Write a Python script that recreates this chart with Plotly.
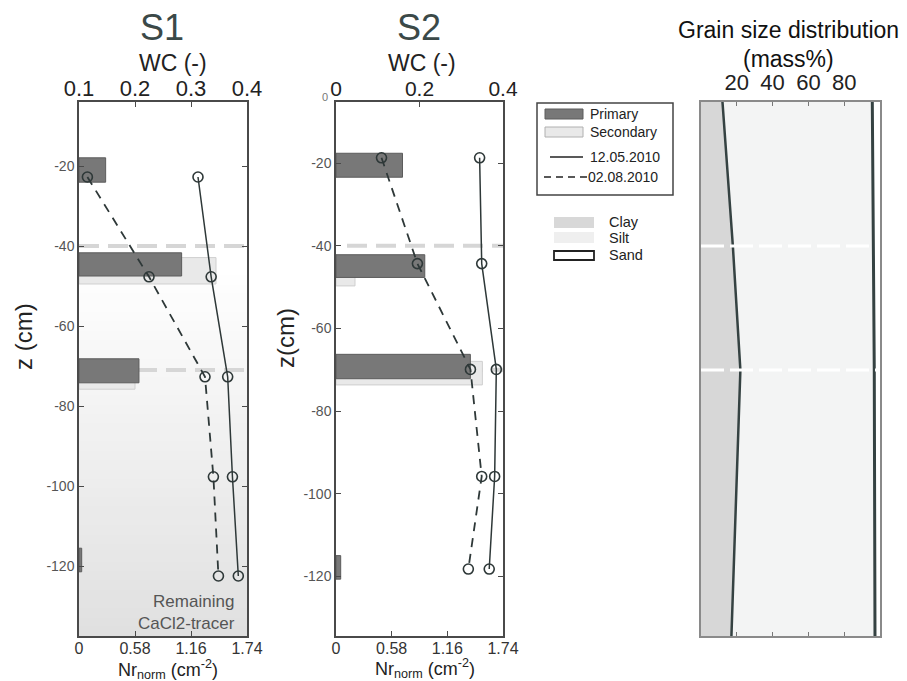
import plotly.graph_objects as go

# the page places the plot 8px from the top-left corner (body margin)
OFF = 8
W, H = 907 - OFF, 681 - OFF
def fx(p):
    return (p - OFF) / W
def fy(p):
    return 1 - (p - OFF) / H

FONT = "Liberation Sans, Arial, sans-serif"

# ---------------- data ----------------
s1_layer_bounds = [-40, -71]
s2_layer_bounds = [-40, -70]
gs_layer_bounds = [-40, -71]

s1_wc_depth = [-22.75, -47.7, -72.7, -97.7, -122.5]
s1_wc_may = [0.3125, 0.336, 0.3655, 0.374, 0.3845]
s1_wc_aug = [0.115, 0.225, 0.325, 0.34, 0.349]
s1_prim_depth = [-21.0, -44.6, -71.2, -118.5]
s1_prim_nr = [0.276, 1.063, 0.621, 0.028]
s1_prim_h = [6.1, 5.8, 6.0, 5.9]
s1_sec_depth = [-46.2, -72.8]
s1_sec_nr = [1.419, 0.58]
s1_sec_h = [6.6, 6.0]

s2_wc_depth = [-18.7, -44.3, -69.9, -95.8, -118.2]
s2_wc_may = [0.344, 0.349, 0.384, 0.380, 0.367]
s2_wc_aug = [0.109, 0.195, 0.322, 0.349, 0.317]
s2_prim_depth = [-20.5, -44.9, -69.2, -117.8]
s2_prim_nr = [0.693, 0.925, 1.40, 0.049]
s2_prim_h = [5.8, 5.5, 5.9, 5.7]
s2_sec_depth = [-46.6, -70.8]
s2_sec_nr = [0.198, 1.525]
s2_sec_h = [6.2, 5.7]

gs_depth = [-4, -40, -71, -137.5]
gs_clay = [12, 17.8, 22, 17]
gs_clay_silt = [95.7, 96.3, 96.8, 97.2]

nr_ticks = [0, 0.58, 1.16, 1.74]
nr_ticktext = ["0", "0.58", "1.16", "1.74"]
s1_wc_ticks = [0.1, 0.2, 0.3, 0.4]
s2_wc_ticks = [0, 0.2, 0.4]
z_ticks = [-20, -40, -60, -80, -100, -120]
z_ticktext = ["-20", "-40", "-60", "-80", "-100", "-120"]
gs_ticks = [20, 40, 60, 80]

S1_YR = [-137.5, -4]
S2_YR = [-134.4, -5.2]
NR_R = [0, 1.74]
S1_WCR = [0.1, 0.4]
S2_WCR = [0, 0.4]
GS_R = [0, 100]

# ---------------- styles ----------------
PRIM_FILL, PRIM_LINE = "#787878", "#5c5c5c"
SEC_FILL, SEC_LINE = "#e9e9e9", "#cfcfcf"
WC_COL = "#2e3838"
AX_COL = "#4a4a4a"

fig = go.Figure()

def add_profile(xb, xt, ya, sec_d, sec_v, sec_h, pr_d, pr_v, pr_h, d, may, aug):
    fig.add_trace(go.Bar(orientation="h", x=sec_v, y=sec_d, width=sec_h,
                         xaxis=xb, yaxis=ya, showlegend=False,
                         marker=dict(color=SEC_FILL, line=dict(color=SEC_LINE, width=1))))
    fig.add_trace(go.Bar(orientation="h", x=pr_v, y=pr_d, width=pr_h,
                         xaxis=xb, yaxis=ya, showlegend=False,
                         marker=dict(color=PRIM_FILL, line=dict(color=PRIM_LINE, width=1))))
    fig.add_trace(go.Scatter(x=may, y=d, xaxis=xt, yaxis=ya, mode="lines+markers",
                             showlegend=False, line=dict(color=WC_COL, width=1.5),
                             marker=dict(symbol="circle-open", size=10,
                                         line=dict(color=WC_COL, width=1.6))))
    fig.add_trace(go.Scatter(x=aug, y=d, xaxis=xt, yaxis=ya, mode="lines+markers",
                             showlegend=False,
                             line=dict(color=WC_COL, width=1.8, dash="9px,7px"),
                             marker=dict(symbol="circle-open", size=10,
                                         line=dict(color=WC_COL, width=1.6))))

add_profile("x", "x2", "y", s1_sec_depth, s1_sec_nr, s1_sec_h,
            s1_prim_depth, s1_prim_nr, s1_prim_h, s1_wc_depth, s1_wc_may, s1_wc_aug)
add_profile("x3", "x4", "y2", s2_sec_depth, s2_sec_nr, s2_sec_h,
            s2_prim_depth, s2_prim_nr, s2_prim_h, s2_wc_depth, s2_wc_may, s2_wc_aug)

# grain size
fig.add_trace(go.Scatter(x=gs_clay, y=gs_depth, xaxis="x5", yaxis="y3", mode="lines",
                         fill="tozerox", fillcolor="#d7d7d7", showlegend=False,
                         line=dict(color="#354242", width=2.5)))
fig.add_trace(go.Scatter(x=gs_clay_silt, y=gs_depth, xaxis="x5", yaxis="y3", mode="lines",
                         fill="tonextx", fillcolor="#f3f4f4", showlegend=False,
                         line=dict(color="#354242", width=3)))

shapes = []
# gradient background in S1 (remaining tracer)
n = 40
z_top, z_bot = -45.0, S1_YR[0]
for i in range(n):
    a = z_top + (z_bot - z_top) * i / n
    b = z_top + (z_bot - z_top) * (i + 1) / n
    g = int(round(255 - (255 - 224) * (i + 0.5) / n))
    shapes.append(dict(type="rect", xref="x domain", yref="y", x0=0, x1=1,
                       y0=b - 0.3, y1=a, fillcolor=f"rgb({g},{g},{g})",
                       line_width=0, layer="below"))
for zb in s1_layer_bounds:
    shapes.append(dict(type="line", xref="x domain", yref="y", x0=0, x1=1, y0=zb, y1=zb,
                       line=dict(color="#d6d6d6", width=4, dash="20px,9px"), layer="below"))
for zb in s2_layer_bounds:
    shapes.append(dict(type="line", xref="x3 domain", yref="y2", x0=0.066, x1=1, y0=zb, y1=zb,
                       line=dict(color="#d6d6d6", width=4, dash="20px,9px"), layer="below"))
for zb in gs_layer_bounds:
    shapes.append(dict(type="line", xref="x5 domain", yref="y3", x0=0, x1=1, y0=zb, y1=zb,
                       line=dict(color="#ffffff", width=3, dash="23px,6px"), layer="above"))

# manual legends
def rect(x0, y0, x1, y1, fill, line_col=None, lw=1):
    shapes.append(dict(type="rect", xref="paper", yref="paper",
                       x0=fx(x0), x1=fx(x1), y0=fy(y1), y1=fy(y0), fillcolor=fill,
                       line=dict(color=line_col or fill, width=lw if line_col else 0)))

def hline(x0, x1, y, dash="solid", width=1.5):
    shapes.append(dict(type="line", xref="paper", yref="paper", x0=fx(x0), x1=fx(x1),
                       y0=fy(y), y1=fy(y), line=dict(color="#222", width=width, dash=dash)))

rect(537, 103, 673, 195, "white", "#444", 1.5)
rect(545, 109, 583, 119, PRIM_FILL, PRIM_LINE, 1)
rect(545, 127, 583, 137, SEC_FILL, "#b0b0b0", 1)
hline(550, 583, 157)
hline(544, 587, 177, dash="7px,5px")
rect(554, 217, 594, 228, "#d8d8d8")
rect(554, 232, 594, 243, "#efefef")
rect(554, 251, 594, 260, "white", "#222", 1.8)

ann = []
def text(x, y, s, size, color="#222", xa="center", ya="middle", angle=0, align="center"):
    ann.append(dict(x=fx(x), y=fy(y), xref="paper", yref="paper", text=s, showarrow=False,
                    xanchor=xa, yanchor=ya, textangle=angle, align=align,
                    font=dict(family=FONT, size=size, color=color)))

text(588, 114, "Primary", 14, xa="left")
text(588, 132, "Secondary", 14, xa="left")
text(588, 157, "12.05.2010", 14, xa="left")
text(586, 177, "02.08.2010", 14, xa="left")
text(607, 222, "Clay", 14.5, xa="left")
text(607, 238, "Silt", 14.5, xa="left")
text(607, 255, "Sand", 14.5, xa="left")

text(162, 27, "S1", 36, color="#3b4948")
text(419, 27, "S2", 36, color="#3b4948")
text(173, 63, "WC (-)", 23)
text(422, 63, "WC (-)", 23)
text(23, 337, "z (cm)", 24, angle=-90)
text(285, 338, "z(cm)", 24, angle=-90)
text(168, 669, "Nr<sub>norm</sub> (cm<sup>-2</sup>)", 18)
text(425, 668, "Nr<sub>norm</sub> (cm<sup>-2</sup>)", 18)
text(325, 97, "0", 11, color="#777")
text(788, 30, "Grain size distribution", 23, color="#111")
text(788, 59, "(mass%)", 23, color="#111")
text(237, 612, "Remaining<br>CaCl2-tracer", 17, color="#555", xa="right", align="right")

common = dict(showgrid=False, zeroline=False, ticks="inside", ticklen=5, automargin=False,
              tickcolor=AX_COL, linecolor=AX_COL, linewidth=1.5)

s1_dom_x = [fx(79), fx(247)]
s2_dom_x = [fx(336), fx(503)]
gs_dom_x = [fx(701), fx(880)]
dom_y = [fy(636), fy(102)]

fig.update_layout(
    template="none",
    width=W, height=H, margin=dict(l=0, r=0, t=0, b=0, autoexpand=False),
    paper_bgcolor="white", plot_bgcolor="white", barmode="overlay",
    font=dict(family=FONT, color="#222"),
    shapes=shapes, annotations=ann,
    xaxis=dict(domain=s1_dom_x, anchor="y", range=NR_R, tickvals=nr_ticks, ticktext=nr_ticktext,
               showline=True, mirror=True, tickfont=dict(size=16, color="#333"),
               ticklabelstandoff=-3, **common),
    xaxis2=dict(overlaying="x", side="top", anchor="y", range=S1_WCR, tickvals=s1_wc_ticks,
                showline=False, tickfont=dict(size=22, color="#222"),
                ticklabelstandoff=1, **common),
    yaxis=dict(domain=dom_y, anchor="x", range=S1_YR, tickvals=z_ticks, ticktext=z_ticktext,
               showline=True, mirror="ticks", tickfont=dict(size=14, color="#555"), **common),
    xaxis3=dict(domain=s2_dom_x, anchor="y2", range=NR_R, tickvals=nr_ticks, ticktext=nr_ticktext,
                showline=True, mirror=True, tickfont=dict(size=16, color="#333"),
                ticklabelstandoff=-3, **common),
    xaxis4=dict(overlaying="x3", side="top", anchor="y2", range=S2_WCR, tickvals=s2_wc_ticks,
                showline=False, tickfont=dict(size=21, color="#222"),
                ticklabelstandoff=1, **common),
    yaxis2=dict(domain=dom_y, anchor="x3", range=S2_YR, tickvals=z_ticks, ticktext=z_ticktext,
                showline=True, mirror="ticks", tickfont=dict(size=14, color="#555"), **common),
    xaxis5=dict(domain=gs_dom_x, anchor="y3", side="top", range=GS_R, tickvals=gs_ticks,
                showline=True, mirror="ticks", tickfont=dict(size=22, color="#222"),
                ticklabelstandoff=1,
                showgrid=False, zeroline=False, ticks="inside", ticklen=4, automargin=False,
                tickcolor="#777", linecolor="#8a8a8a", linewidth=1.5),
    yaxis3=dict(domain=dom_y, anchor="x5", range=S1_YR, showticklabels=False, ticks="",
                showline=True, mirror=True, showgrid=False, zeroline=False, automargin=False,
                linecolor="#8a8a8a", linewidth=1.5),
)

fig.write_html("out.html")
